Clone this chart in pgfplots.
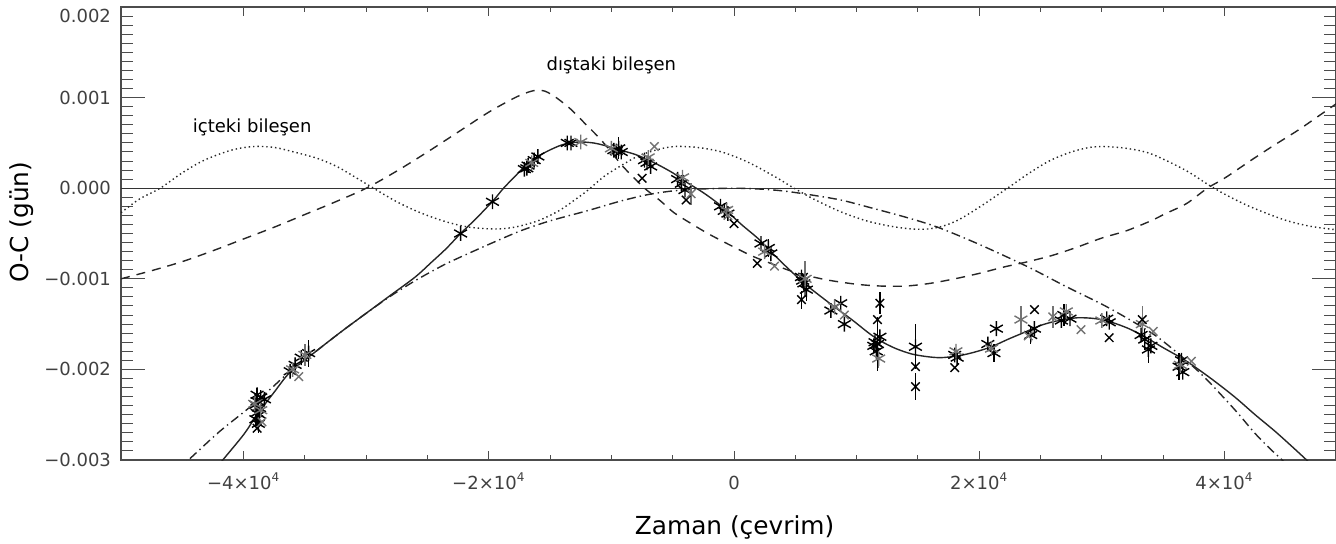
\documentclass[border=0pt]{standalone}
\usepackage{fontspec}
\setmainfont{DejaVu Sans}
\usepackage{pgfplots}
\pgfplotsset{compat=1.18}
\begin{document}
\begin{tikzpicture}
\pgfplotsset{
  common/.style={
    at={(0,0)}, anchor=south west,
    scale only axis, width=607.5pt, height=226.5pt,
    xmin=-50, xmax=49.1, ymin=-3, ymax=2,
    tick align=inside,
    every tick/.style={black!70, line width=0.5pt},
    tick label style={font=\fontsize{9}{10}\selectfont, text=black!75},
  }
}
% x ticks only (short ticks)
\begin{axis}[common,
  axis line style={draw=none},
  xtick={-40,-20,0,20,40},
  xticklabels={−4×10\textsuperscript{4},−2×10\textsuperscript{4},0,2×10\textsuperscript{4},4×10\textsuperscript{4}},
  minor x tick num=3,
  ytick=\empty,
  major tick length=4.5pt, minor tick length=2.5pt,
  xticklabel style={anchor=base, yshift=-14.5pt},
]
\addplot[draw=none] coordinates {(0,0)};
\end{axis}
\begin{axis}[common,
  xtick=\empty,
  ytick={-3,-2,-1,0,1,2},
  yticklabels={−0.003,−0.002,−0.001,0.000,0.001,\raisebox{-7.5pt}[0pt][0pt]{0.002}},
  minor y tick num=9,
  major tick length=12pt, minor tick length=6pt,
  axis line style={black!70, line width=0.6pt},
  yticklabel style={xshift=-1.5pt},
  xlabel={Zaman (çevrim)},
  ylabel={O-C (gün)},
  label style={font=\fontsize{12.4}{14}\selectfont},
  xlabel style={at={(axis description cs:0.505,-0.150)}, anchor=center},
  ylabel style={at={(axis description cs:-0.0815,0.525)}, anchor=center, rotate=0},
  clip=true,
]
% zero line
\addplot[black!80, line width=0.6pt] coordinates {(-50,0) (49.1,0)};
% inner component (dotted)
\addplot[black!85, line width=0.7pt, dash pattern=on 0.7pt off 1.5pt, smooth] coordinates {
(-50,-0.27)(-48.5,-0.12)(-46.8,0.0)(-45,0.17)(-43.2,0.31)(-41,0.42)(-39.2,0.46)(-37.5,0.45)(-35.9,0.40)(-34,0.33)(-32.4,0.24)(-31,0.13)(-29.4,0.0)(-27.5,-0.15)(-25.6,-0.27)(-23.5,-0.37)(-21.6,-0.43)(-19.5,-0.45)(-17.9,-0.43)(-16,-0.36)(-14.3,-0.25)(-13,-0.13)(-11.9,-0.02)(-10.6,0.13)(-9.2,0.25)(-7.9,0.35)(-6.4,0.42)(-4.9,0.46)(-3,0.45)(-1,0.40)(1.1,0.29)(3.3,0.13)(4.9,0.0)(6.5,-0.12)(8.7,-0.26)(10.8,-0.36)(12.8,-0.42)(14.5,-0.45)(15.8,-0.45)(17,-0.42)(18.3,-0.35)(20,-0.21)(22.3,0.0)(24,0.16)(25.7,0.30)(27.5,0.40)(29,0.45)(30.2,0.46)(32,0.44)(34,0.38)(36.8,0.20)(38.9,0.02)(40.5,-0.10)(42.2,-0.21)(44.9,-0.35)(47,-0.42)(49.2,-0.46)};
% outer component (dashed)
\addplot[black!85, line width=0.7pt, dash pattern=on 4.5pt off 3.5pt, smooth] coordinates {
(-50,-1.0)(-47.5,-0.91)(-45,-0.81)(-42.5,-0.69)(-40,-0.56)(-37.5,-0.43)(-35,-0.29)(-32.5,-0.15)(-30,0.0)(-27.5,0.19)(-25,0.40)(-22.5,0.62)(-20,0.84)(-18,0.99)(-17,1.05)(-16.2,1.08)(-15.4,1.07)(-14.5,1.00)(-13.3,0.87)(-12.2,0.72)(-11.1,0.57)(-10,0.40)(-9.2,0.26)(-8.2,0.12)(-7.3,0.0)(-6,-0.14)(-4.9,-0.27)(-3.5,-0.39)(-2,-0.51)(0,-0.65)(1.5,-0.75)(3,-0.83)(5,-0.93)(7.5,-1.01)(10,-1.06)(12,-1.08)(14,-1.08)(16,-1.05)(18,-1.00)(20,-0.94)(22,-0.87)(24,-0.81)(26,-0.74)(28,-0.65)(30,-0.55)(32,-0.47)(34,-0.36)(35.2,-0.28)(36.9,-0.17)(38.6,0.0)(40,0.11)(42.3,0.32)(44,0.47)(46,0.64)(47.5,0.78)(49.2,0.94)};
% quadratic term (dash-dot)
\addplot[black!85, line width=0.7pt, dash pattern=on 4.5pt off 2pt on 0.7pt off 2pt, smooth] coordinates {
(-45.5,-3.12)(-44.5,-3.0)(-42,-2.69)(-39.7,-2.44)(-38,-2.24)(-36.2,-2.02)(-34,-1.79)(-32,-1.58)(-30,-1.38)(-28,-1.19)(-26,-1.02)(-24,-0.87)(-22.8,-0.79)(-20,-0.62)(-17.4,-0.47)(-15,-0.36)(-12,-0.25)(-9.2,-0.14)(-7,-0.07)(-5,-0.03)(-3,-0.01)(0,0.0)(2.2,-0.01)(4,-0.03)(6.1,-0.07)(8.7,-0.13)(11,-0.21)(14,-0.32)(16.6,-0.43)(20,-0.62)(24,-0.87)(27,-1.08)(30,-1.28)(32,-1.43)(34.3,-1.62)(36,-1.80)(38.1,-2.05)(40,-2.32)(41.2,-2.50)(42.45,-2.70)(43.6,-2.86)(44.7,-3.0)(45.5,-3.11)};
% total fit (solid)
\addplot[black!85, line width=0.7pt, smooth] coordinates {
(-42.3,-3.1)(-41.7,-3.0)(-40,-2.72)(-38.9,-2.50)(-37.5,-2.25)(-36.2,-2.03)(-34,-1.79)(-32,-1.58)(-30,-1.38)(-28,-1.18)(-26,-0.98)(-24.7,-0.82)(-23.5,-0.67)(-22.3,-0.50)(-21,-0.33)(-19.6,-0.13)(-18.8,0.0)(-17.8,0.14)(-17,0.25)(-16,0.35)(-15.2,0.41)(-14,0.48)(-12.7,0.51)(-11.5,0.50)(-10.5,0.47)(-9.8,0.44)(-8,0.37)(-6.5,0.28)(-5,0.17)(-3.8,0.06)(-2.5,-0.05)(-1.1,-0.19)(0.6,-0.40)(2,-0.56)(3.3,-0.74)(4.6,-0.91)(6,-1.08)(7.8,-1.27)(9.6,-1.45)(11,-1.60)(12,-1.69)(13.2,-1.77)(14.5,-1.83)(15.8,-1.86)(16.9,-1.87)(18.3,-1.85)(19.6,-1.81)(21,-1.75)(22.3,-1.67)(23.7,-1.59)(25.1,-1.51)(26.5,-1.46)(28,-1.43)(29.5,-1.44)(30.8,-1.48)(32.2,-1.55)(33.5,-1.64)(35,-1.76)(36.8,-1.90)(38.8,-2.09)(40.8,-2.30)(42.5,-2.50)(44.1,-2.68)(45.5,-2.85)(46.7,-3.0)(47.3,-3.08)};
% black asterisks
\addplot[only marks, mark=asterisk, mark size=3.7pt, black, line width=0.7pt,
  error bars/.cd, y dir=both, y explicit, error mark=none,
  error bar style={black, line width=0.7pt}] coordinates {
(-38.9,-2.28) +- (0,0.08)
(-38.9,-2.35) +- (0,0.10)
(-38.8,-2.42) +- (0,0)
(-38.9,-2.48) +- (0,0.15)
(-39.0,-2.55) +- (0,0)
(-38.8,-2.60) +- (0,0.10)
(-38.7,-2.50) +- (0,0)
(-38.3,-2.33) +- (0,0)
(-39.0,-2.39) +- (0,0)
(-38.6,-2.31) +- (0,0)
(-36.2,-2.02) +- (0,0)
(-35.8,-1.95) +- (0,0)
(-35.3,-1.87) +- (0,0)
(-34.7,-1.82) +- (0,0.15)
(-22.3,-0.50) +- (0,0)
(-19.7,-0.15) +- (0,0)
(-17.1,0.21) +- (0,0)
(-16.8,0.25) +- (0,0)
(-16.3,0.31) +- (0,0)
(-16.0,0.35) +- (0,0)
(-16.9,0.22) +- (0,0)
(-13.6,0.50) +- (0,0)
(-13.3,0.50) +- (0,0)
(-9.8,0.42) +- (0,0)
(-9.4,0.44) +- (0,0.12)
(-9.2,0.40) +- (0,0)
(-9.6,0.41) +- (0,0)
(-7.3,0.31) +- (0,0)
(-7.1,0.28) +- (0,0)
(-6.8,0.24) +- (0,0)
(-4.6,0.10) +- (0,0)
(-4.3,0.05) +- (0,0.10)
(-4.0,-0.02) +- (0,0)
(-1.1,-0.20) +- (0,0)
(-0.8,-0.25) +- (0,0)
(-0.5,-0.28) +- (0,0)
(2.2,-0.61) +- (0,0)
(2.8,-0.66) +- (0,0.10)
(3.0,-0.72) +- (0,0)
(5.5,-0.98) +- (0,0)
(5.7,-1.05) +- (0,0)
(5.9,-1.12) +- (0,0.12)
(5.6,-1.02) +- (0,0)
(7.9,-1.35) +- (0,0)
(8.7,-1.27) +- (0,0)
(9.0,-1.50) +- (0,0)
(11.4,-1.74) +- (0,0)
(11.7,-1.72) +- (0,0.30)
(11.9,-1.64) +- (0,0)
(11.6,-1.80) +- (0,0)
(11.5,-1.70) +- (0,0)
(14.8,-1.75) +- (0,0.25)
(18.0,-1.84) +- (0,0)
(18.2,-1.87) +- (0,0)
(20.7,-1.72) +- (0,0)
(21.2,-1.82) +- (0,0.10)
(21.4,-1.55) +- (0,0)
(24.2,-1.62) +- (0,0.10)
(24.5,-1.55) +- (0,0)
(26.7,-1.46) +- (0,0)
(26.9,-1.40) +- (0,0.12)
(27.4,-1.44) +- (0,0)
(30.4,-1.44) +- (0,0)
(30.6,-1.48) +- (0,0)
(33.5,-1.67) +- (0,0.12)
(33.8,-1.78) +- (0,0.15)
(33.2,-1.62) +- (0,0)
(34.0,-1.74) +- (0,0)
(36.3,-1.97) +- (0,0.15)
(36.5,-1.90) +- (0,0)
(36.6,-2.03) +- (0,0)
};
% grey asterisks
\addplot[only marks, mark=asterisk, mark size=3.7pt, black!55, line width=0.7pt,
  error bars/.cd, y dir=both, y explicit, error mark=none,
  error bar style={black!55, line width=0.7pt}] coordinates {
(-38.6,-2.45) +- (0,0)
(-39.1,-2.38) +- (0,0)
(-36.0,-2.00) +- (0,0)
(-35.0,-1.84) +- (0,0.12)
(-16.5,0.28) +- (0,0)
(-12.5,0.51) +- (0,0)
(-10.0,0.44) +- (0,0)
(-7.0,0.34) +- (0,0)
(-4.2,0.12) +- (0,0)
(-0.6,-0.24) +- (0,0)
(2.5,-0.70) +- (0,0)
(5.8,-1.00) +- (0,0.20)
(8.2,-1.31) +- (0,0)
(11.8,-1.88) +- (0,0.10)
(18.1,-1.80) +- (0,0)
(21.0,-1.77) +- (0,0)
(23.4,-1.45) +- (0,0.15)
(27.1,-1.36) +- (0,0)
(30.0,-1.46) +- (0,0)
(33.3,-1.50) +- (0,0.20)
(36.4,-1.95) +- (0,0)
};
% black crosses
\addplot[only marks, mark=x, mark size=3pt, black, line width=0.7pt,
  error bars/.cd, y dir=both, y explicit, error mark=none,
  error bar style={black, line width=0.7pt}] coordinates {
(-38.9,-2.65) +- (0,0)
(11.9,-1.27) +- (0,0.12)
(11.7,-1.45) +- (0,0)
(14.8,-1.97) +- (0,0)
(14.8,-2.19) +- (0,0.15)
(18.0,-1.98) +- (0,0)
(24.5,-1.34) +- (0,0)
(33.3,-1.45) +- (0,0)
(30.6,-1.65) +- (0,0)
(0.0,-0.39) +- (0,0)
(-3.9,-0.13) +- (0,0)
(1.9,-0.83) +- (0,0)
(5.5,-1.23) +- (0,0.10)
(-7.5,0.11) +- (0,0)
};
% grey crosses
\addplot[only marks, mark=x, mark size=3pt, black!55, line width=0.7pt,
  error bars/.cd, y dir=both, y explicit, error mark=none,
  error bar style={black!55, line width=0.7pt}] coordinates {
(-6.5,0.46) +- (0,0)
(-3.5,-0.06) +- (0,0.12)
(-0.5,-0.30) +- (0,0)
(3.3,-0.86) +- (0,0)
(9.0,-1.40) +- (0,0)
(24.0,-1.63) +- (0,0)
(26.0,-1.42) +- (0,0.12)
(28.3,-1.56) +- (0,0)
(37.3,-1.91) +- (0,0)
(34.2,-1.58) +- (0,0)
(-35.5,-2.08) +- (0,0)
(-38.5,-2.58) +- (0,0)
};
\node[font=\fontsize{9}{11}\selectfont] at (axis cs:-39.3,0.676) {içteki bileşen};
\node[font=\fontsize{9}{11}\selectfont] at (axis cs:-10.0,1.36) {dıştaki bileşen};
\end{axis}
\pgfresetboundingbox
\path[use as bounding box] (-60.5pt,-41.5pt) rectangle (607.5pt,230pt);
\end{tikzpicture}
\end{document}
